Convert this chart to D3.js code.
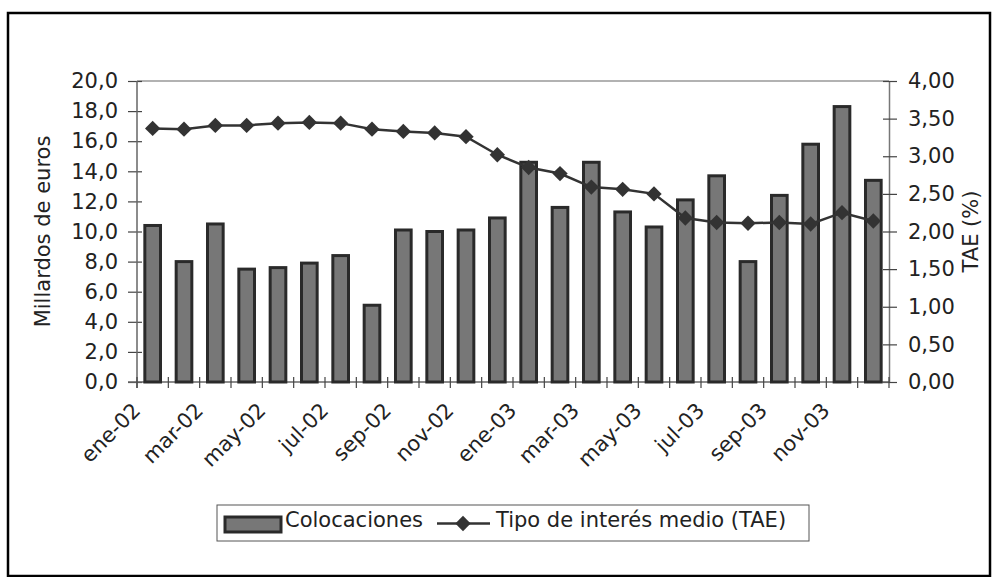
<!DOCTYPE html>
<html>
<head>
<meta charset="utf-8">
<script src="https://cdn.jsdelivr.net/npm/d3@7"></script>
<style>
  html, body { margin: 0; padding: 0; background: #fff; }
  svg { display: block; }
  text { font-family: "DejaVu Sans", Verdana, sans-serif; fill: #222; }
</style>
</head>
<body>
<svg id="chart" width="993" height="577"></svg>
<script>
// ---- data ----
const months = ["ene-02","feb-02","mar-02","abr-02","may-02","jun-02","jul-02","ago-02","sep-02","oct-02","nov-02","dic-02",
                "ene-03","feb-03","mar-03","abr-03","may-03","jun-03","jul-03","ago-03","sep-03","oct-03","nov-03","dic-03"];
const colocaciones = [10.4, 8.0, 10.5, 7.5, 7.6, 7.9, 8.4, 5.1, 10.1, 10.0, 10.1, 10.9,
                      14.6, 11.6, 14.6, 11.3, 10.3, 12.1, 13.7, 8.0, 12.4, 15.8, 18.3, 13.4];
const tae = [3.37, 3.36, 3.41, 3.41, 3.44, 3.45, 3.44, 3.36, 3.33, 3.31, 3.26, 3.02,
             2.85, 2.77, 2.59, 2.56, 2.50, 2.18, 2.12, 2.11, 2.12, 2.10, 2.25, 2.14];
const leftTicks = [0, 2, 4, 6, 8, 10, 12, 14, 16, 18, 20];
const rightTicks = [0, 0.5, 1, 1.5, 2, 2.5, 3, 3.5, 4];
const xLabelMonths = ["ene-02","mar-02","may-02","jul-02","sep-02","nov-02","ene-03","mar-03","may-03","jul-03","sep-03","nov-03"];
const seriesNames = ["Colocaciones", "Tipo de interés medio (TAE)"];
const axisTitles = ["Millardos de euros", "TAE (%)"];

// ---- layout ----
const svg = d3.select("#chart");
const L = 137, R = 889, T = 81, B = 382;
const FS = 21;
const fmt1 = v => v.toFixed(1).replace(".", ",");
const fmt2 = v => v.toFixed(2).replace(".", ",");

// outer frame
svg.append("rect").attr("x", 8).attr("y", 13).attr("width", 982).attr("height", 563)
  .attr("fill", "none").attr("stroke", "#000").attr("stroke-width", 2.5);

const x = d3.scaleBand().domain(months).range([L, R]).paddingInner(0.5).paddingOuter(0.25);
const step = x.step();
const yL = d3.scaleLinear().domain([0, 20]).range([B, T]);
const yR = d3.scaleLinear().domain([0, 4]).range([B, T]);

// plot border (top gray)
svg.append("line").attr("x1", L).attr("x2", R).attr("y1", T).attr("y2", T)
  .attr("stroke", "#999").attr("stroke-width", 1.5);

// left axis
const gL = svg.append("g").attr("transform", `translate(${L},0)`)
  .call(d3.axisLeft(yL).tickValues(leftTicks).tickFormat(fmt1).tickSize(0).tickPadding(19));
gL.select(".domain").remove();
gL.append("line").attr("x1", 0).attr("x2", 0).attr("y1", T).attr("y2", B + 6)
  .attr("stroke", "#666").attr("stroke-width", 1.5);
gL.selectAll(".tick text").attr("font-size", FS).attr("font-family", "DejaVu Sans").attr("fill", "#222");
gL.selectAll(".tick").append("line").attr("x1", -9).attr("x2", 5).attr("stroke", "#444").attr("stroke-width", 1.2);

// right axis
const gR = svg.append("g").attr("transform", `translate(${R},0)`)
  .call(d3.axisRight(yR).tickValues(rightTicks).tickFormat(fmt2).tickSize(0).tickPadding(19));
gR.select(".domain").attr("stroke", "#777").attr("stroke-width", 1.5);
gR.selectAll(".tick text").attr("font-size", FS).attr("font-family", "DejaVu Sans").attr("fill", "#222");
gR.selectAll(".tick").append("line").attr("x1", -6).attr("x2", 8).attr("stroke", "#444").attr("stroke-width", 1.2);

// x axis (category boundaries)
const boundaries = d3.range(months.length + 1).map(i => L + i * step);
svg.append("line").attr("x1", L - 9).attr("x2", R).attr("y1", B).attr("y2", B)
  .attr("stroke", "#666").attr("stroke-width", 1.5);
svg.append("g").selectAll("line").data(boundaries).join("line")
  .attr("x1", d => d).attr("x2", d => d).attr("y1", B - 5).attr("y2", B + 6)
  .attr("stroke", "#444").attr("stroke-width", 1.2);

// x labels
svg.append("g").selectAll("text").data(xLabelMonths).join("text")
  .attr("transform", d => `translate(${x(d) - (x.step() - x.bandwidth()) / 2 - 6},${B + 19}) rotate(-45)`)
  .attr("text-anchor", "end")
  .attr("dy", "0.72em")
  .attr("font-size", FS)
  .text(d => d);

// bars
svg.append("g").selectAll("rect").data(colocaciones).join("rect")
  .attr("x", (d, i) => x(months[i]))
  .attr("y", d => yL(d))
  .attr("width", x.bandwidth())
  .attr("height", d => B - yL(d))
  .attr("fill", "#777")
  .attr("stroke", "#2a2a2a")
  .attr("stroke-width", 3);

// line
const lineGen = d3.line().x((d, i) => x(months[i]) + x.bandwidth() / 2).y(d => yR(d));
svg.append("path").datum(tae).attr("d", lineGen)
  .attr("fill", "none").attr("stroke", "#333").attr("stroke-width", 2.5);
const diamond = d3.symbol().type(d3.symbolSquare).size(118);
svg.append("g").selectAll("path").data(tae).join("path")
  .attr("transform", (d, i) => `translate(${x(months[i]) + x.bandwidth() / 2},${yR(d)}) rotate(45)`)
  .attr("d", diamond)
  .attr("fill", "#333");

// axis titles
svg.append("text").attr("transform", `translate(50,${(T + B) / 2}) rotate(-90)`)
  .attr("text-anchor", "middle").attr("font-size", FS).text(axisTitles[0]);
svg.append("text").attr("transform", `translate(978,${(T + B) / 2}) rotate(-90)`)
  .attr("text-anchor", "middle").attr("font-size", FS).text(axisTitles[1]);

// legend
const lg = svg.append("g");
lg.append("rect").attr("x", 217).attr("y", 505).attr("width", 592).attr("height", 36)
  .attr("fill", "#fff").attr("stroke", "#555").attr("stroke-width", 1);
lg.append("rect").attr("x", 225).attr("y", 517).attr("width", 56).attr("height", 15)
  .attr("fill", "#777").attr("stroke", "#2a2a2a").attr("stroke-width", 3);
lg.append("text").attr("x", 285).attr("y", 527).attr("font-size", FS).text(seriesNames[0]);
lg.append("line").attr("x1", 437).attr("x2", 490).attr("y1", 523.5).attr("y2", 523.5)
  .attr("stroke", "#333").attr("stroke-width", 2.5);
lg.append("path").attr("transform", "translate(463,523.5) rotate(45)").attr("d", diamond).attr("fill", "#333");
lg.append("text").attr("x", 496).attr("y", 527).attr("font-size", FS).text(seriesNames[1]);
</script>
</body>
</html>
